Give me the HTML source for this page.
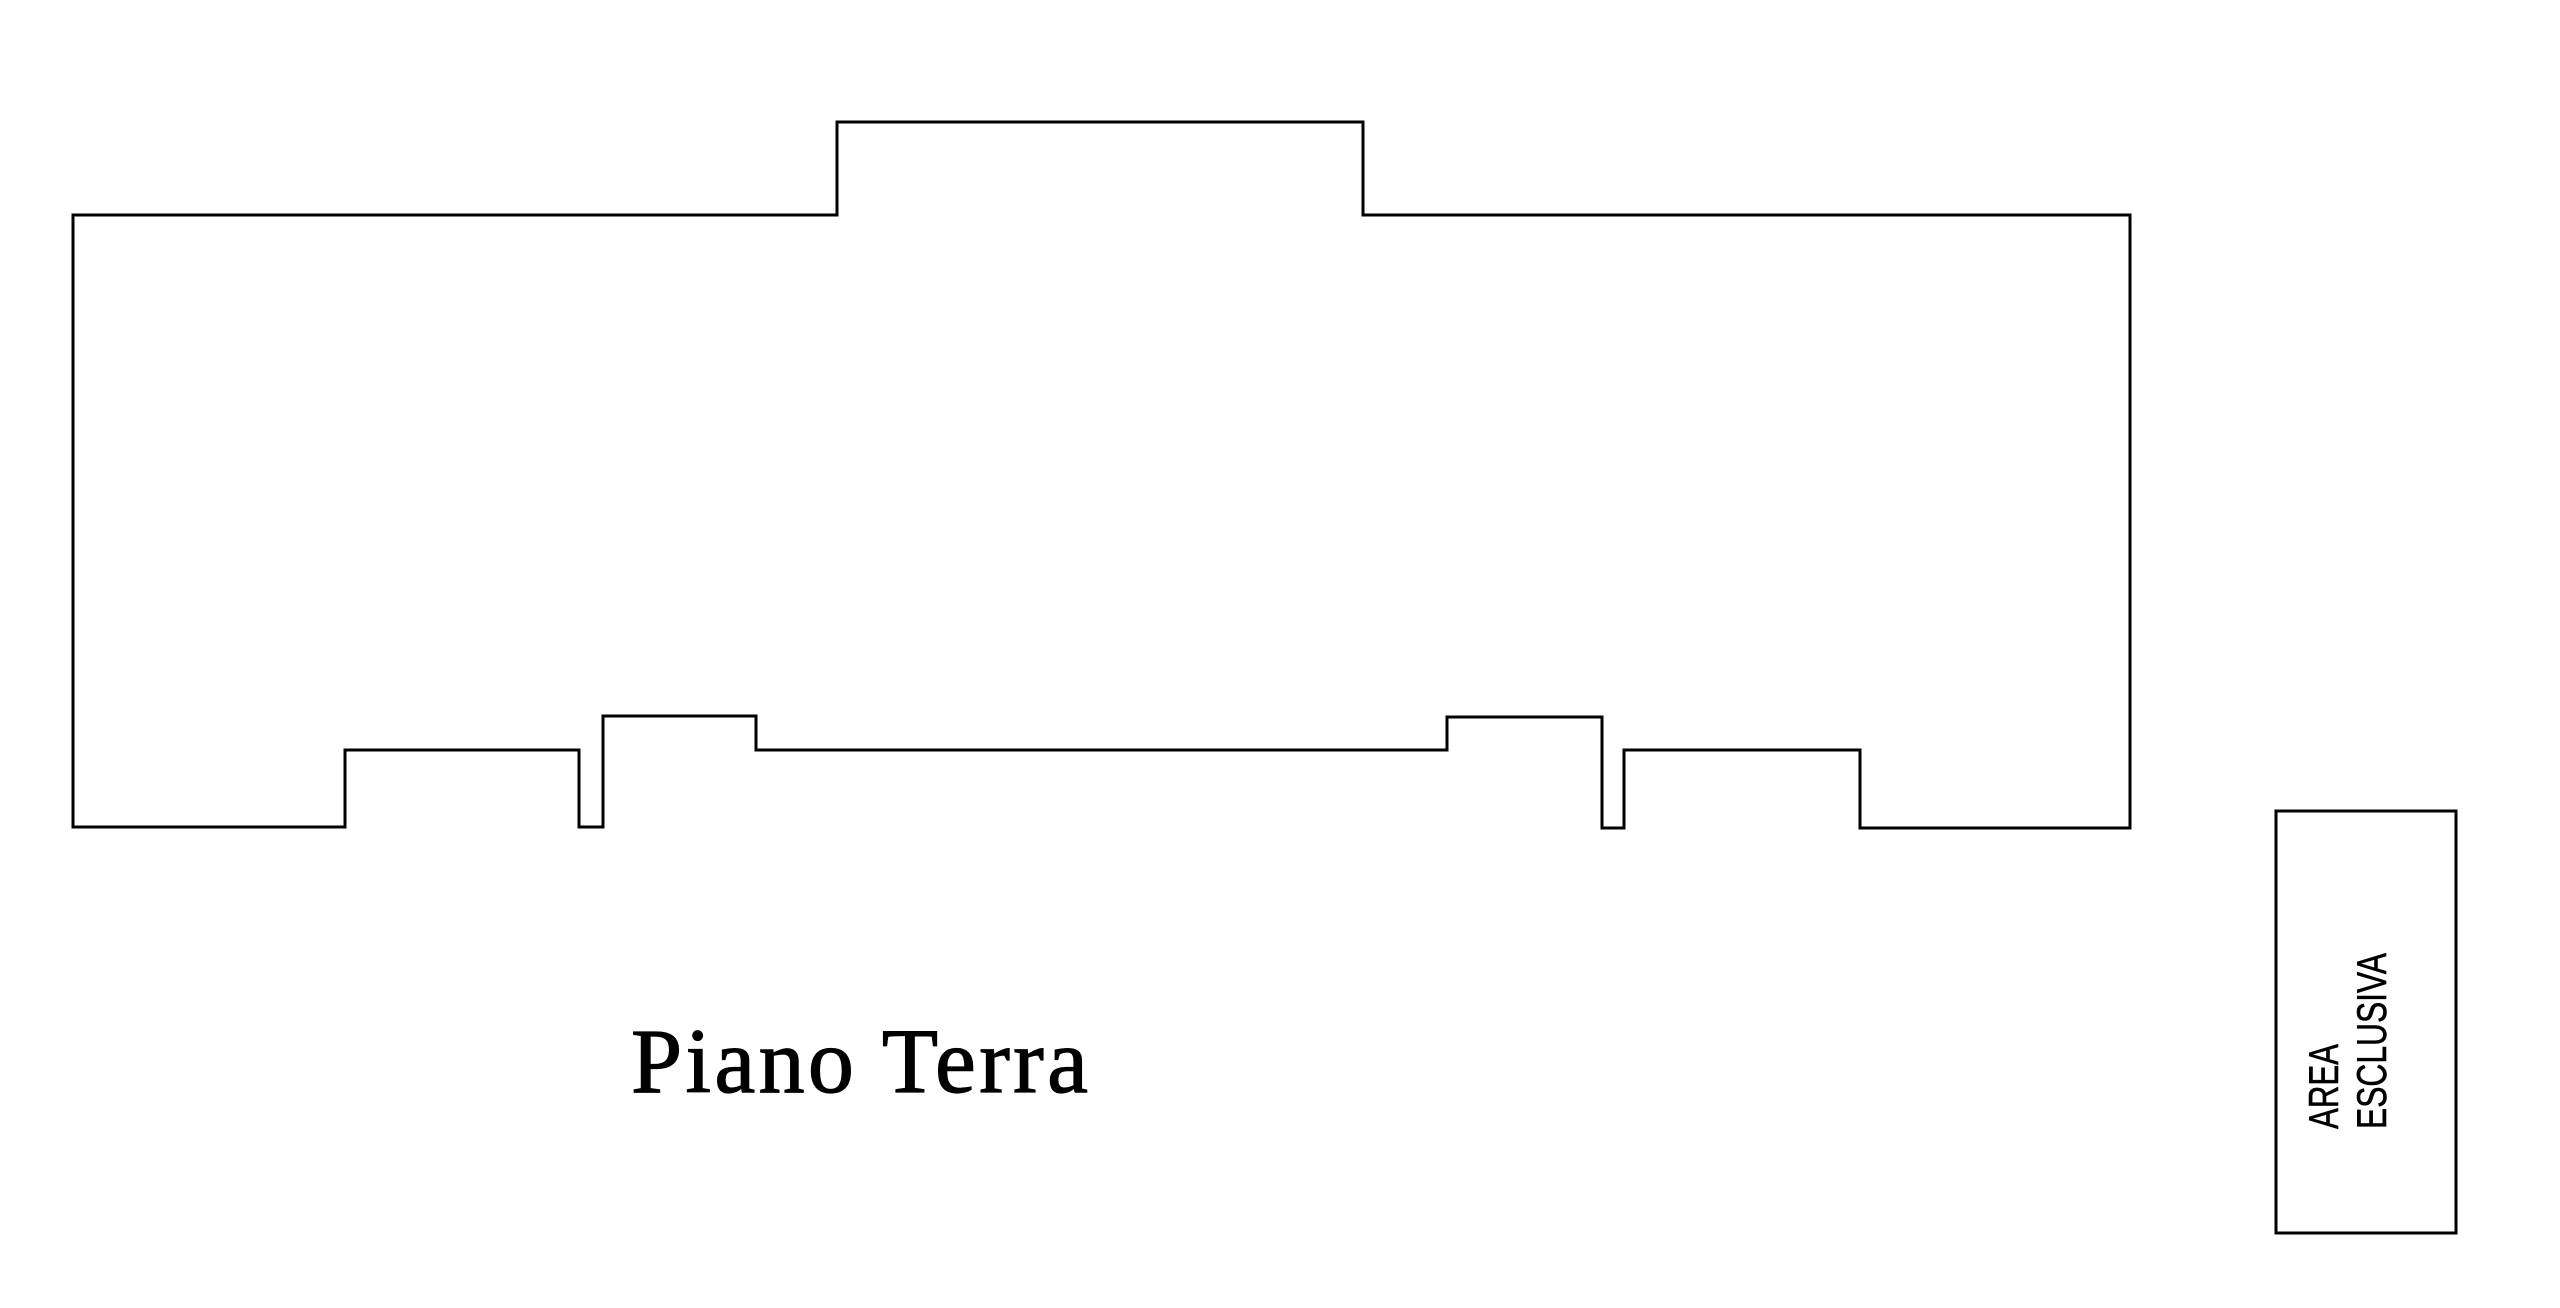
<!DOCTYPE html>
<html><head><meta charset="utf-8"><style>html,body{margin:0;padding:0;background:#fff}svg{display:block}</style></head>
<body>
<svg width="2560" height="1308" viewBox="0 0 2560 1308" xmlns="http://www.w3.org/2000/svg">
<g fill="none" stroke="#000" stroke-width="3" stroke-linejoin="miter">
<path d="M73 215 H837 V122 H1363 V215 H2130 V828 H1860 V750 H1624 V828 H1602 V717 H1447 V750 H756 V716 H603 V827 H579 V750 H345 V827 H73 Z"/>
<rect x="2276" y="811" width="180" height="422"/>
</g>
<text x="631" y="1092" font-family="Liberation Serif, serif" font-size="92" stroke="#000" stroke-width="1.2" textLength="457" lengthAdjust="spacing">Piano Terra</text>
<g font-family="Liberation Sans, sans-serif" font-size="42" stroke="#000" stroke-width="0.6">
<text transform="translate(2338,1129) rotate(-90)" textLength="85" lengthAdjust="spacingAndGlyphs">AREA</text>
<text transform="translate(2386,1129) rotate(-90)" textLength="176" lengthAdjust="spacingAndGlyphs">ESCLUSIVA</text>
</g>
</svg>
</body></html>
